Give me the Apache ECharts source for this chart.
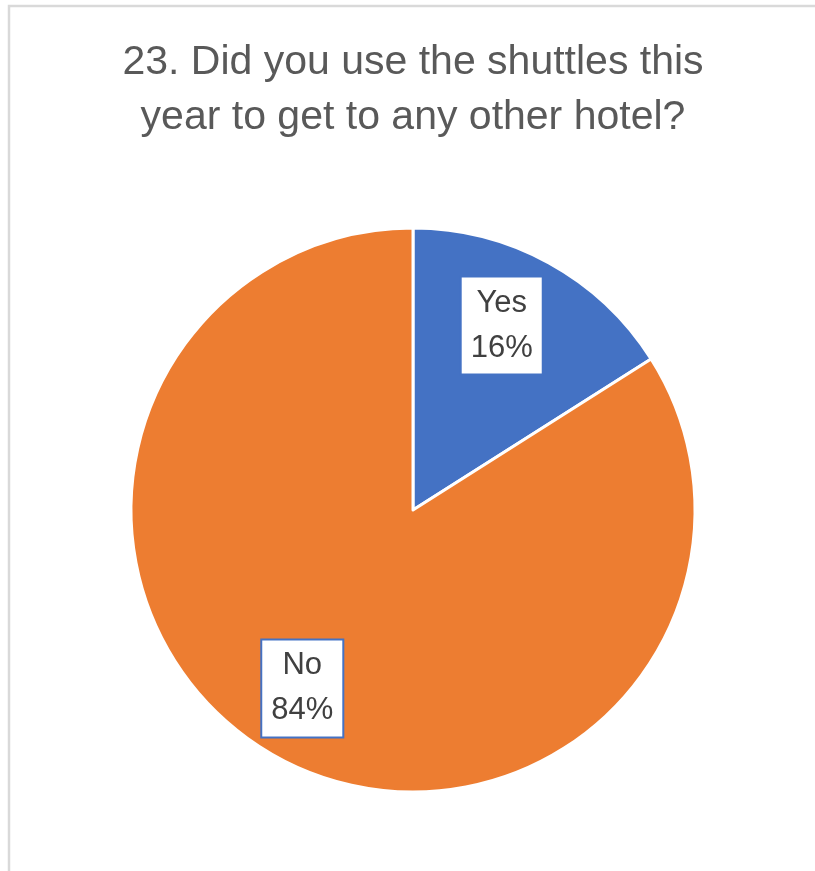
<!DOCTYPE html>
<html>
<head>
<meta charset="utf-8">
<script src="https://cdn.jsdelivr.net/npm/echarts@6/dist/echarts.min.js"></script>
<style>
html,body{margin:0;padding:0;background:#fff;}
#chart{width:815px;height:871px;}
</style>
</head>
<body>
<div id="chart"></div>
<script>
const titleLines = ['23. Did you use the shuttles this', 'year to get to any other hotel?'];
const categories = ['Yes', 'No'];
const values = [16, 84];
const colors = ['#4472c4', '#ed7d31'];

const FONT = 'Liberation Sans';
const chart = echarts.init(document.getElementById('chart'), null, {renderer: 'canvas'});

const pieData = categories.map((c, i) => ({name: c, value: values[i], itemStyle: {color: colors[i]}}));

chart.setOption({
  animation: false,
  backgroundColor: '#ffffff',
  title: {
    text: titleLines.join('\n'),
    left: 413,
    textAlign: 'center',
    top: 35,
    padding: 0,
    textStyle: {
      fontFamily: FONT,
      fontSize: 41,
      fontWeight: 'normal',
      color: '#595959',
      lineHeight: 55
    }
  },
  graphic: [{
    type: 'rect',
    silent: true,
    z: -10,
    shape: {x: 9, y: 6, width: 1000, height: 1000},
    style: {fill: 'none', stroke: '#d9d9d9', lineWidth: 2.5}
  }],
  series: [{
    type: 'pie',
    center: [413, 510],
    radius: [0, 282],
    startAngle: 90,
    clockwise: true,
    silent: true,
    data: pieData,
    itemStyle: {borderColor: '#ffffff', borderWidth: 3},
    label: {show: false},
    labelLine: {show: false}
  }, {
    type: 'pie',
    center: [413, 510],
    radius: [126, 282],
    startAngle: 90,
    clockwise: true,
    silent: true,
    data: categories.map((c, i) => ({name: c, value: values[i]})),
    itemStyle: {color: 'rgba(0,0,0,0)', borderWidth: 0},
    label: {
      show: true,
      position: 'inside',
      formatter: '{b}\n{c}%',
      offset: [-11, -3],
      fontFamily: FONT,
      fontSize: 31,
      lineHeight: 45,
      color: '#404040',
      backgroundColor: '#ffffff',
      borderColor: '#4472c4',
      borderWidth: 2,
      padding: [3, 9]
    },
    labelLine: {show: false}
  }]
});
</script>
</body>
</html>
